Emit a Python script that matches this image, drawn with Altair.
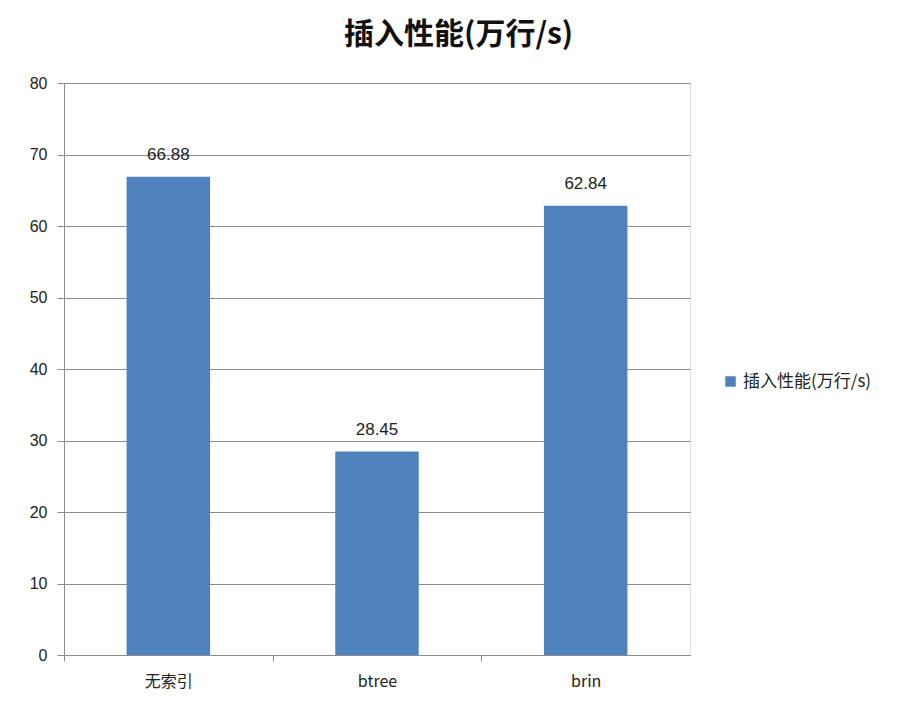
import altair as alt
import pandas as pd

categories = ["无索引", "btree", "brin"]
values = [66.88, 28.45, 62.84]
series_name = "插入性能(万行/s)"
y_ticks = [0, 10, 20, 30, 40, 50, 60, 70, 80]

df = pd.DataFrame({"cat": categories, "val": values, "series": [series_name] * 3})
df["label"] = [f"{v:.2f}" for v in values]

FONT = "Liberation Sans, Noto Sans CJK SC"
GRID = "#8c8c8c"
W = 626
HALF_STEP = W / len(categories) / 2

base = alt.Chart(df).encode(
    x=alt.X("cat:N", sort=categories, title=None,
            scale=alt.Scale(paddingInner=0, paddingOuter=0),
            axis=alt.Axis(tickOffset=-HALF_STEP, labelOffset=HALF_STEP,
                          labelAngle=0, labelFontSize=16,
                          labelColor="#222222", labelPadding=12, tickSize=6,
                          tickColor=GRID, domainColor=GRID, grid=False,
                          labelFont="Noto Sans CJK SC")),
)

bars = base.mark_bar(color="#4F81BD", width={"band": 0.4}).encode(
    y=alt.Y("val:Q", title=None,
            scale=alt.Scale(domain=[0, 80], nice=False),
            axis=alt.Axis(values=y_ticks, labelFontSize=16, labelColor="#222222",
                          labelPadding=10, tickSize=7, tickColor=GRID,
                          domainColor=GRID, gridColor=GRID, gridOpacity=1,
                          labelFont=FONT)),
    color=alt.Color("series:N", scale=alt.Scale(range=["#4F81BD"]),
                    legend=alt.Legend(title=None, orient="none", legendX=658,
                                      legendY=290, symbolType="square",
                                      symbolSize=110, labelFontSize=17,
                                      labelColor="#222222",
                                      labelFont="Noto Sans CJK SC")),
)

text = base.mark_text(baseline="bottom", dy=-13, fontSize=17, color="#222222",
                      font=FONT).encode(
    y=alt.Y("val:Q"),
    text="label:N",
)

chart = (bars + text).properties(
    width=W, height=572,
    title=alt.TitleParams(series_name, fontSize=30, fontWeight="bold",
                          font="Noto Sans CJK SC", color="#111111",
                          anchor="middle", frame="bounds", offset=25, dx=8),
    autosize=alt.AutoSizeParams(type="none"),
    padding={"left": 56, "top": 75, "right": 200, "bottom": 50},
).configure_view(strokeOpacity=0, strokeWidth=0).configure(font=FONT)

chart.save("out.html", embed_options={"renderer": "svg", "actions": False})
